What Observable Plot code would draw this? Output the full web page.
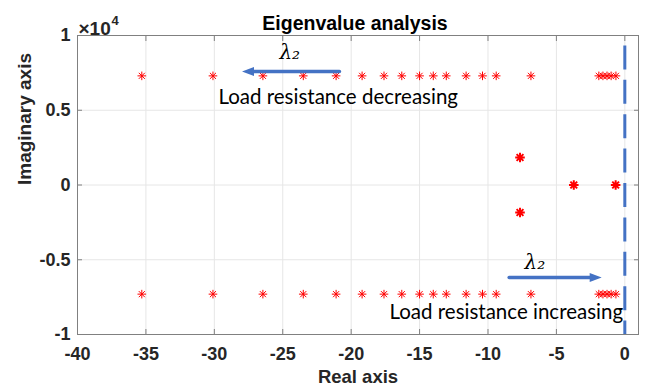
<!DOCTYPE html>
<html><head><meta charset="utf-8">
<script src="https://cdn.jsdelivr.net/npm/d3@7"></script>
<script src="https://cdn.jsdelivr.net/npm/@observablehq/plot@0.6"></script>
<style>html,body{margin:0;padding:0;background:#fff;} #chart{width:648px;height:387px;overflow:hidden;}</style>
</head><body><div id="chart"></div>
<script>
// ---- data ----
const branchReal = [-35.3, -30.1, -26.45, -23.5, -21.1, -19.2, -17.6, -16.3, -15.0, -14.0, -13.05, -11.6, -10.4, -9.4, -6.86, -1.9, -1.6, -1.3, -1.0, -0.65];
const branchImag = [7300, -7300];
const midReal = [-7.66, -7.66, -3.73, -0.67];
const midImag = [1840, -1840, 0, 0];
const xTicks = [-40, -35, -30, -25, -20, -15, -10, -5, 0];
const yTicks = [-10000, -5000, 0, 5000, 10000];
const yTickLabels = ["-1", "-0.5", "0", "0.5", "1"];
const boundaryReal = [0];
const arrowStart = [-20.85, -8.46];
const arrowEnd = [-27.98, -1.69];
const arrowImag = [7592, -6187];
const lambdaReal = [-24.49, -6.57];
const lambdaImag = [8860, -5180];
const noteText = ["Load resistance decreasing", "Load resistance increasing"];
const noteReal = [-29.7, -17.2];
const noteImag = [5886, -8495];

// ---- tables built from the arrays ----
const branchPts = branchImag.flatMap(im => branchReal.map(re => ({re, im})));
const midPts = midReal.map((re, i) => ({re, im: midImag[i]}));
const arrows = arrowStart.map((s, i) => ({x1: s, x2: arrowEnd[i], y: arrowImag[i], rot: arrowEnd[i] < s ? 180 : 0}));
const lambdas = lambdaReal.map((re, i) => ({re, im: lambdaImag[i]}));
const notes = noteText.map((t, i) => ({t, re: noteReal[i], im: noteImag[i]}));

const asterisk = {draw(ctx, size) {
  const r = Math.sqrt(size / Math.PI), d = r * Math.SQRT1_2;
  ctx.moveTo(-r, 0); ctx.lineTo(r, 0);
  ctx.moveTo(0, -r); ctx.lineTo(0, r);
  ctx.moveTo(-d, -d); ctx.lineTo(d, d);
  ctx.moveTo(-d, d); ctx.lineTo(d, -d);
}};
const head = {draw(ctx, size) {
  const s = Math.sqrt(size / Math.PI);
  ctx.moveTo(0, 0); ctx.lineTo(-3 * s, -1.15 * s); ctx.lineTo(-3 * s, 1.15 * s); ctx.closePath();
}};

const blue = "#4472C4";
const fmtY = d => yTickLabels[yTicks.indexOf(d)];

const chart = Plot.plot({
  width: 648, height: 387,
  marginLeft: 77, marginRight: 10, marginTop: 35, marginBottom: 53,
  style: {fontFamily: "'Liberation Sans', Arial, sans-serif", fontSize: "18px", fontWeight: "bold", color: "#262626", background: "#fff"},
  x: {domain: [-40, 1]},
  y: {domain: [-10000, 10000]},
  marks: [
    Plot.gridX(xTicks, {stroke: "#e6e6e6", strokeOpacity: 1}),
    Plot.gridY(yTicks, {stroke: "#e6e6e6", strokeOpacity: 1}),
    Plot.frame({stroke: "#808080"}),
    // inward tick marks on all four sides
    Plot.axisX(xTicks, {anchor: "bottom", tickSize: -5, tickFormat: () => "", stroke: "#808080", label: null}),
    Plot.axisX(xTicks, {anchor: "top", tickSize: -5, tickFormat: () => "", stroke: "#808080", label: null}),
    Plot.axisY(yTicks, {anchor: "left", tickSize: -5, tickFormat: () => "", stroke: "#808080", label: null}),
    Plot.axisY(yTicks, {anchor: "right", tickSize: -5, tickFormat: () => "", stroke: "#808080", label: null}),
    // tick labels
    Plot.axisX(xTicks, {anchor: "bottom", tickSize: 0, tickPadding: 13, tickFormat: d => String(d), fill: "#262626", fontSize: 18, fontWeight: "bold", label: null}),
    Plot.axisY(yTicks, {anchor: "left", tickSize: 0, tickPadding: 7, tickFormat: fmtY, fill: "#262626", fontSize: 18, fontWeight: "bold", label: null}),
    // stability boundary
    Plot.ruleX(boundaryReal, {stroke: blue, strokeWidth: 3, strokeDasharray: "24,10.4", strokeDashoffset: 24}),
    // eigenvalues
    Plot.dot(branchPts, {x: "re", y: "im", symbol: asterisk, r: 4.3, stroke: "#ff0000", strokeWidth: 1, fill: "none"}),
    Plot.dot(midPts, {x: "re", y: "im", symbol: asterisk, r: 4.8, stroke: "#ff0000", strokeWidth: 2, fill: "none"}),
    // annotation arrows
    Plot.arrow(arrows, {x1: "x1", x2: "x2", y1: "y", y2: "y", stroke: blue, strokeWidth: 3.3, headLength: 0, insetEnd: 8}),
    Plot.dot(arrows, {x: "x2", y: "y", symbol: head, r: 4, rotate: "rot", fill: blue, stroke: "none"}),
    Plot.text(lambdas, {x: "re", y: "im", text: () => "λ₂", fontFamily: "'DejaVu Serif', serif", fontStyle: "italic", fontWeight: "normal", fontSize: 20, fill: "#000"}),
    Plot.text(notes, {x: "re", y: "im", text: "t", textAnchor: "start", lineAnchor: "middle", fontFamily: "Lato, 'Open Sans', sans-serif", fontWeight: "normal", fontSize: 20.5, fill: "#000"}),
    // titles and labels
    Plot.text(["Eigenvalue analysis"], {frameAnchor: "top", lineAnchor: "bottom", dy: -6, dx: -3, fontSize: 19.5, fontWeight: "bold", fill: "#000"}),
    Plot.text(["Real axis"], {frameAnchor: "bottom", lineAnchor: "top", dy: 35, fontSize: 18.5, fontWeight: "bold", fill: "#262626"}),
    Plot.text(["Imaginary axis"], {frameAnchor: "left", rotate: -90, lineAnchor: "top", dx: -60, fontSize: 19, fontWeight: "bold", fill: "#262626"}),
    Plot.text(["×10"], {frameAnchor: "top-left", textAnchor: "start", lineAnchor: "bottom", dx: 1, dy: -1, fontSize: 19, fontWeight: "bold", fill: "#262626"}),
    Plot.text(["4"], {frameAnchor: "top-left", textAnchor: "start", lineAnchor: "bottom", dx: 34, dy: -11, fontSize: 13, fontWeight: "bold", fill: "#262626"})
  ]
});
document.getElementById("chart").appendChild(chart);
</script>
</body></html>
